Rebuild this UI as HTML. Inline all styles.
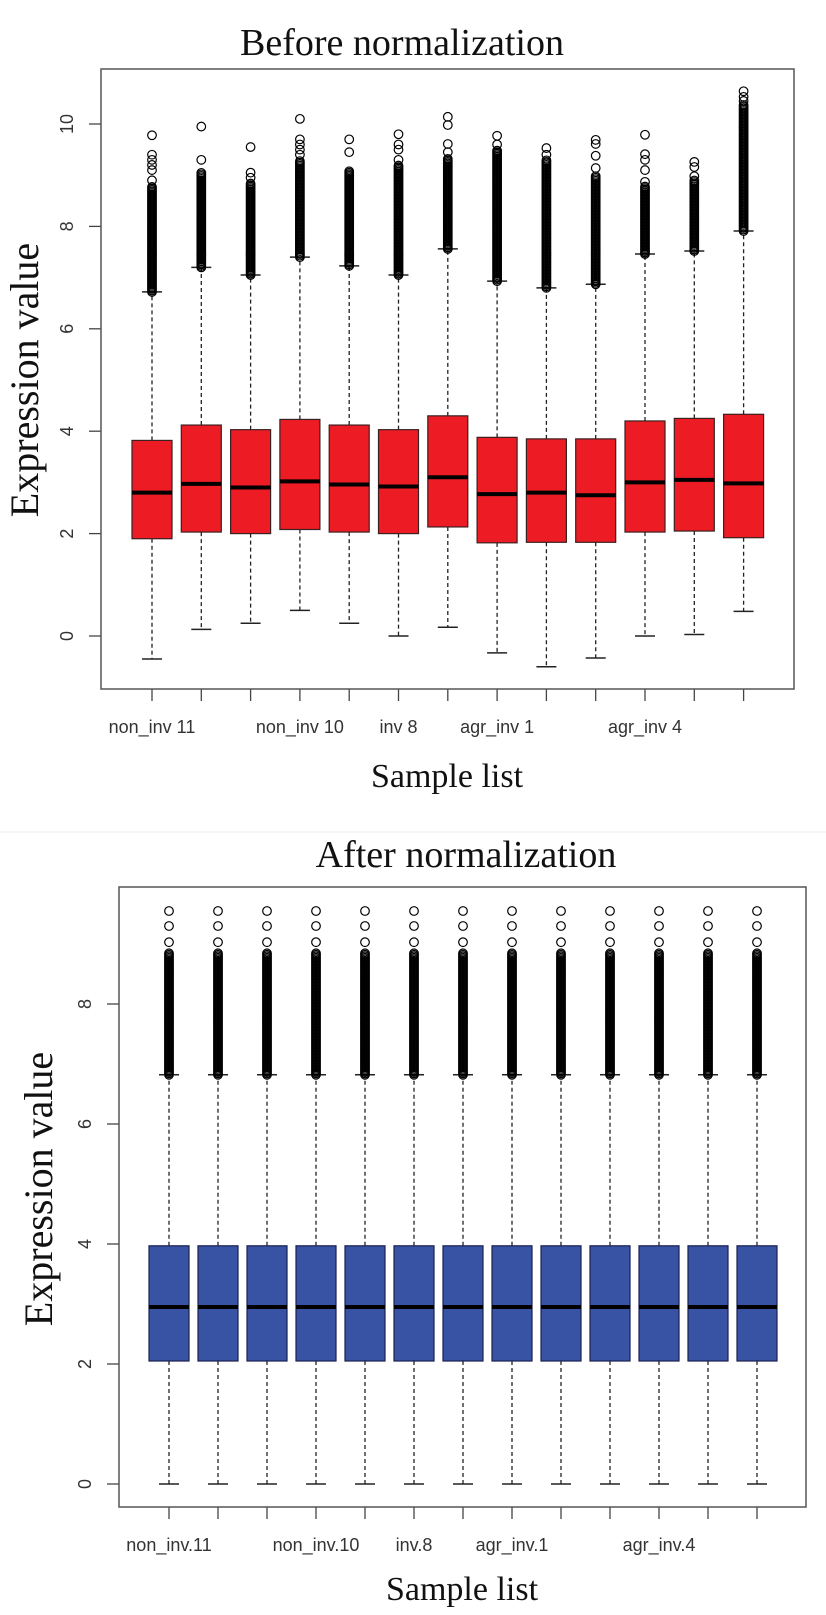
<!DOCTYPE html>
<html><head><meta charset="utf-8">
<style>
html,body{margin:0;padding:0;background:#fff;}
svg{display:block;}
.tick{font-family:"Liberation Sans",sans-serif;font-size:18px;fill:#333;}
.serif{font-family:"Liberation Serif",serif;fill:#111;}
</style></head>
<body>
<svg id="chart" width="826" height="1615" viewBox="0 0 826 1615">
<line x1="0" y1="832" x2="826" y2="832" stroke="#eee" stroke-width="1"/>
<text class="serif" x="402" y="55" font-size="38" text-anchor="middle">Before normalization</text>
<text class="serif" x="447" y="787" font-size="34" text-anchor="middle">Sample list</text>
<text class="serif" transform="translate(38,380) rotate(-90)" font-size="40" text-anchor="middle">Expression value</text>
<text class="serif" x="466" y="867" font-size="38" text-anchor="middle">After normalization</text>
<text class="serif" x="462" y="1600" font-size="34" text-anchor="middle">Sample list</text>
<text class="serif" transform="translate(52,1189) rotate(-90)" font-size="40" text-anchor="middle">Expression value</text>
<g id="top"></g>
<g id="bottom"></g>
</svg>
<script>
// ---- Before normalization data ----
const beforeQ1 = [1.9,2.03,2.0,2.08,2.03,2.0,2.13,1.82,1.83,1.83,2.03,2.05,1.92];
const beforeMed = [2.8,2.97,2.9,3.02,2.96,2.92,3.1,2.77,2.8,2.75,3.0,3.05,2.98];
const beforeQ3 = [3.82,4.12,4.03,4.23,4.12,4.03,4.3,3.88,3.85,3.85,4.2,4.25,4.33];
const beforeLo = [-0.45,0.13,0.25,0.5,0.25,0.0,0.17,-0.33,-0.6,-0.43,0.0,0.03,0.48];
const beforeHi = [6.72,7.2,7.05,7.4,7.23,7.05,7.56,6.93,6.8,6.87,7.46,7.52,7.91];
const beforeDenseTop = [8.8,9.05,8.85,9.3,9.1,9.2,9.33,9.5,9.3,9.0,8.8,8.9,10.4];
const beforeSparse = [[8.9,9.1,9.2,9.3,9.4,9.78],[9.3,9.95],[8.95,9.05,9.55],[9.4,9.5,9.6,9.7,10.1],[9.45,9.7],[9.3,9.5,9.6,9.8],[9.45,9.61,9.98,10.14],[9.6,9.77],[9.4,9.53],[9.14,9.38,9.61,9.69],[8.87,9.1,9.3,9.41,9.79],[8.98,9.16,9.26],[10.45,10.53,10.64]];
const beforeTicks = [0,2,4,6,8,10];
const beforeLabels = ["non_inv 11","","","non_inv 10","","inv 8","","agr_inv 1","","","agr_inv 4","",""];
// ---- After normalization data ----
const afterQ1 = [2.05,2.05,2.05,2.05,2.05,2.05,2.05,2.05,2.05,2.05,2.05,2.05,2.05];
const afterMed = [2.95,2.95,2.95,2.95,2.95,2.95,2.95,2.95,2.95,2.95,2.95,2.95,2.95];
const afterQ3 = [3.97,3.97,3.97,3.97,3.97,3.97,3.97,3.97,3.97,3.97,3.97,3.97,3.97];
const afterLo = [0,0,0,0,0,0,0,0,0,0,0,0,0];
const afterHi = [6.82,6.82,6.82,6.82,6.82,6.82,6.82,6.82,6.82,6.82,6.82,6.82,6.82];
const afterDenseTop = [8.85,8.85,8.85,8.85,8.85,8.85,8.85,8.85,8.85,8.85,8.85,8.85,8.85];
const afterSparse = [[9.03,9.3,9.55],[9.03,9.3,9.55],[9.03,9.3,9.55],[9.03,9.3,9.55],[9.03,9.3,9.55],[9.03,9.3,9.55],[9.03,9.3,9.55],[9.03,9.3,9.55],[9.03,9.3,9.55],[9.03,9.3,9.55],[9.03,9.3,9.55],[9.03,9.3,9.55],[9.03,9.3,9.55]];
const afterTicks = [0,2,4,6,8];
const afterLabels = ["non_inv.11","","","non_inv.10","","inv.8","","agr_inv.1","","","agr_inv.4","",""];

const NS = "http://www.w3.org/2000/svg";
function mk(parent, tag, attrs){
  const e = document.createElementNS(NS, tag);
  for (const k in attrs) e.setAttribute(k, attrs[k]);
  parent.appendChild(e);
  return e;
}
function drawPlot(g, cfg){
  const y = v => cfg.y0 - v*cfg.unit;
  const x = i => cfg.x0 + i*cfg.step;
  const n = cfg.q1.length;
  for (let i=0;i<n;i++){
    const cx = x(i), hw = 20;
    const wl = mk(g,'line',{x1:cx,x2:cx,y1:y(cfg.q1[i]),y2:y(cfg.lo[i]),stroke:'#222','stroke-width':1.3,'stroke-dasharray':'4,3'});
    
    
    const wu = mk(g,'line',{x1:cx,x2:cx,y1:y(cfg.q3[i]),y2:y(cfg.hi[i]),stroke:'#222','stroke-width':1.3,'stroke-dasharray':'4,3'});
    
    
    const c1 = mk(g,'line',{x1:cx-10,x2:cx+10,y1:y(cfg.lo[i]),y2:y(cfg.lo[i]),stroke:'#222','stroke-width':1.5});
    
    
    const c2 = mk(g,'line',{x1:cx-10,x2:cx+10,y1:y(cfg.hi[i]),y2:y(cfg.hi[i]),stroke:'#222','stroke-width':1.5});
    
    
    const box = mk(g,'rect',{x:cx-hw,y:y(cfg.q3[i]),width:hw*2,height:y(cfg.q1[i])-y(cfg.q3[i]),fill:cfg.fill,stroke:cfg.stroke,'stroke-width':1.2});
    
    
    const md = mk(g,'line',{x1:cx-hw,x2:cx+hw,y1:y(cfg.med[i]),y2:y(cfg.med[i]),stroke:'#000','stroke-width':4});
    
    
    // dense outlier column
    const og = mk(g,'g',{fill:'none',stroke:'#000','stroke-width':1.2});
    
    
    for (let yy=y(cfg.hi[i]); yy>=y(cfg.dense[i]); yy-=1.5){
      mk(og,'circle',{cx:cx,cy:yy,r:4.3});
    }
    cfg.sparse[i].forEach(v=>{
      const c = mk(og,'circle',{cx:cx,cy:y(v),r:4.3});
      
      
    });
    const tk = mk(g,'line',{x1:cx,x2:cx,y1:cfg.bottom,y2:cfg.bottom+12,stroke:'#444','stroke-width':1.3});
    
    
    if (cfg.labels[i]){
      const t = mk(g,'text',{x:cx,y:cfg.bottom+44,'text-anchor':'middle',class:'tick'});
      t.textContent = cfg.labels[i];
      
      
    }
  }
  cfg.ticks.forEach(v=>{
    const tl = mk(g,'line',{x1:cfg.left-12,x2:cfg.left,y1:y(v),y2:y(v),stroke:'#444','stroke-width':1.3});
    
    
    const t = mk(g,'text',{transform:`translate(${cfg.left-28},${y(v)}) rotate(-90)`,'text-anchor':'middle',class:'tick'});
    t.textContent = v;
    
    
  });
  const fr = mk(g,'rect',{x:cfg.left,y:cfg.top,width:cfg.right-cfg.left,height:cfg.bottom-cfg.top,fill:'none',stroke:'#555','stroke-width':1.5});
  
  
}
drawPlot(document.getElementById('top'),{
  q1:beforeQ1,med:beforeMed,q3:beforeQ3,lo:beforeLo,hi:beforeHi,dense:beforeDenseTop,sparse:beforeSparse,
  ticks:beforeTicks,labels:beforeLabels,
  y0:636,unit:51.2,x0:152,step:49.3,left:101,right:794,top:69,bottom:689,
  fill:'#ed1c24',stroke:'#3a2020'
});
drawPlot(document.getElementById('bottom'),{
  q1:afterQ1,med:afterMed,q3:afterQ3,lo:afterLo,hi:afterHi,dense:afterDenseTop,sparse:afterSparse,
  ticks:afterTicks,labels:afterLabels,
  y0:1484,unit:60,x0:169,step:49,left:119,right:806,top:887,bottom:1507,
  fill:'#3953a4',stroke:'#1a2050'
});
</script>
</body></html>
